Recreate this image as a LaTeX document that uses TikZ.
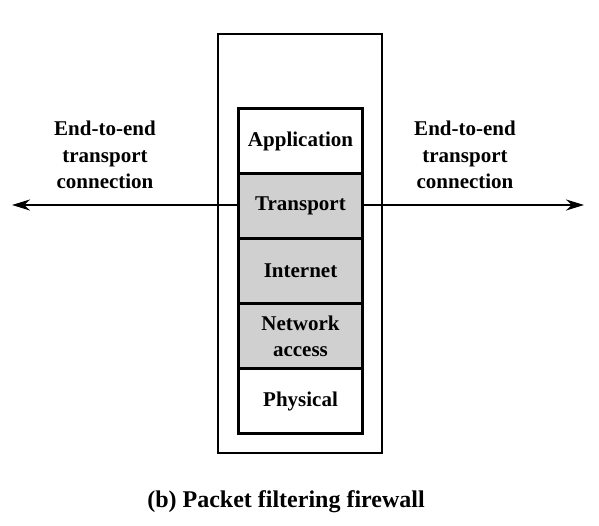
\documentclass[tikz,border=0pt]{standalone}
\usepackage{fontspec}
\setmainfont{Liberation Serif}
\usetikzlibrary{arrows.meta}
\definecolor{layergray}{HTML}{D0D0D0}
\begin{document}
\begin{tikzpicture}[x=1pt,y=-1pt,
  layer/.style={draw=black,line width=3pt,minimum width=124pt,inner sep=0pt,
    align=center,font=\bfseries\fontsize{21}{26}\selectfont,anchor=north west},
  lbl/.style={align=center,font=\bfseries\fontsize{21}{26.5}\selectfont},
  conn/.style={line width=2.4pt,-{Stealth[length=18pt,width=11pt]}}]
\useasboundingbox (0,0) rectangle (599,526);
\node[draw=black,line width=2pt,minimum width=164pt,minimum height=419pt,anchor=north west,inner sep=0pt] (outer) at (217,33) {};
\node[layer,fill=white,minimum height=65pt] (app) at (237,107) {Application};
\node[layer,fill=layergray,minimum height=65pt] (trans) at (237,172) {Transport};
\node[layer,fill=layergray,minimum height=65pt] (inet) at (237,237) {Internet};
\node[layer,fill=layergray,minimum height=65pt] (net) at (237,302) {Network\\access};
\node[layer,fill=white,minimum height=65pt] (phys) at (237,367) {Physical};
\coordinate (lend) at (12,205);
\coordinate (rend) at (584,205);
\draw[conn] (trans.west |- lend) -- (lend);
\draw[conn] (trans.east |- rend) -- (rend);
\node[lbl] (ltext) at (105,155) {End-to-end\\transport\\connection};
\node[lbl] (rtext) at (465,155) {End-to-end\\transport\\connection};
\node[font=\bfseries\fontsize{24}{26}\selectfont] (cap) at (286,502) {(b) Packet filtering firewall};
\end{tikzpicture}
\end{document}
